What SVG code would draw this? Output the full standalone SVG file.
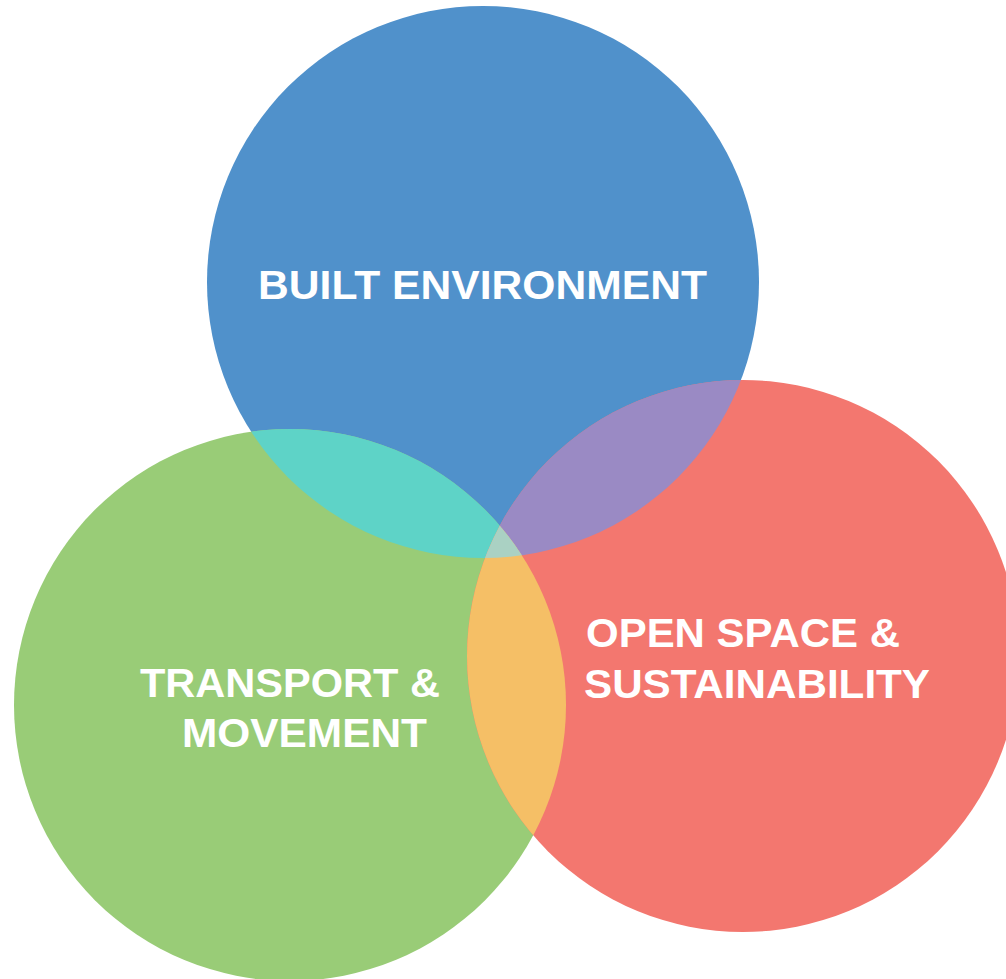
<svg xmlns="http://www.w3.org/2000/svg" width="1006" height="979" viewBox="0 0 1006 979">
<style>
.lbl{font-family:"Liberation Sans",Arial,sans-serif;font-weight:bold;font-size:41.5px;fill:#ffffff}
</style>
<defs>
<clipPath id="cBlue"><circle cx="483" cy="282" r="276"/></clipPath>
<clipPath id="cGreen"><circle cx="290" cy="705" r="276"/></clipPath>
<clipPath id="cRed"><circle cx="743" cy="656" r="276"/></clipPath>
</defs>
<rect width="1006" height="979" fill="#ffffff"/>
<g id="node-built">
<circle cx="483" cy="282" r="276" fill="#5091CB"/>
</g>
<g id="node-transport">
<circle cx="290" cy="705" r="276" fill="#99CC77"/>
</g>
<g id="node-openspace">
<circle cx="743" cy="656" r="276" fill="#F3776F"/>
</g>
<g id="overlaps">
<circle cx="290" cy="705" r="276" fill="#5ED3C7" clip-path="url(#cBlue)"/>
<circle cx="743" cy="656" r="276" fill="#9A8AC4" clip-path="url(#cBlue)"/>
<circle cx="743" cy="656" r="276" fill="#F5BF66" clip-path="url(#cGreen)"/>
<g clip-path="url(#cBlue)"><circle cx="743" cy="656" r="276" fill="#AAD1C3" clip-path="url(#cGreen)"/></g>
</g>
<g id="labels">
<text class="lbl" x="258" y="299" textLength="449" lengthAdjust="spacingAndGlyphs">BUILT ENVIRONMENT</text>
<text class="lbl" x="140" y="697" textLength="300" lengthAdjust="spacingAndGlyphs">TRANSPORT &amp;</text>
<text class="lbl" x="182" y="747" textLength="245" lengthAdjust="spacingAndGlyphs">MOVEMENT</text>
<text class="lbl" x="586" y="647" textLength="314" lengthAdjust="spacingAndGlyphs">OPEN SPACE &amp;</text>
<text class="lbl" x="584" y="698" textLength="346" lengthAdjust="spacingAndGlyphs">SUSTAINABILITY</text>
</g>
<g id="connectors"/>
</svg>
